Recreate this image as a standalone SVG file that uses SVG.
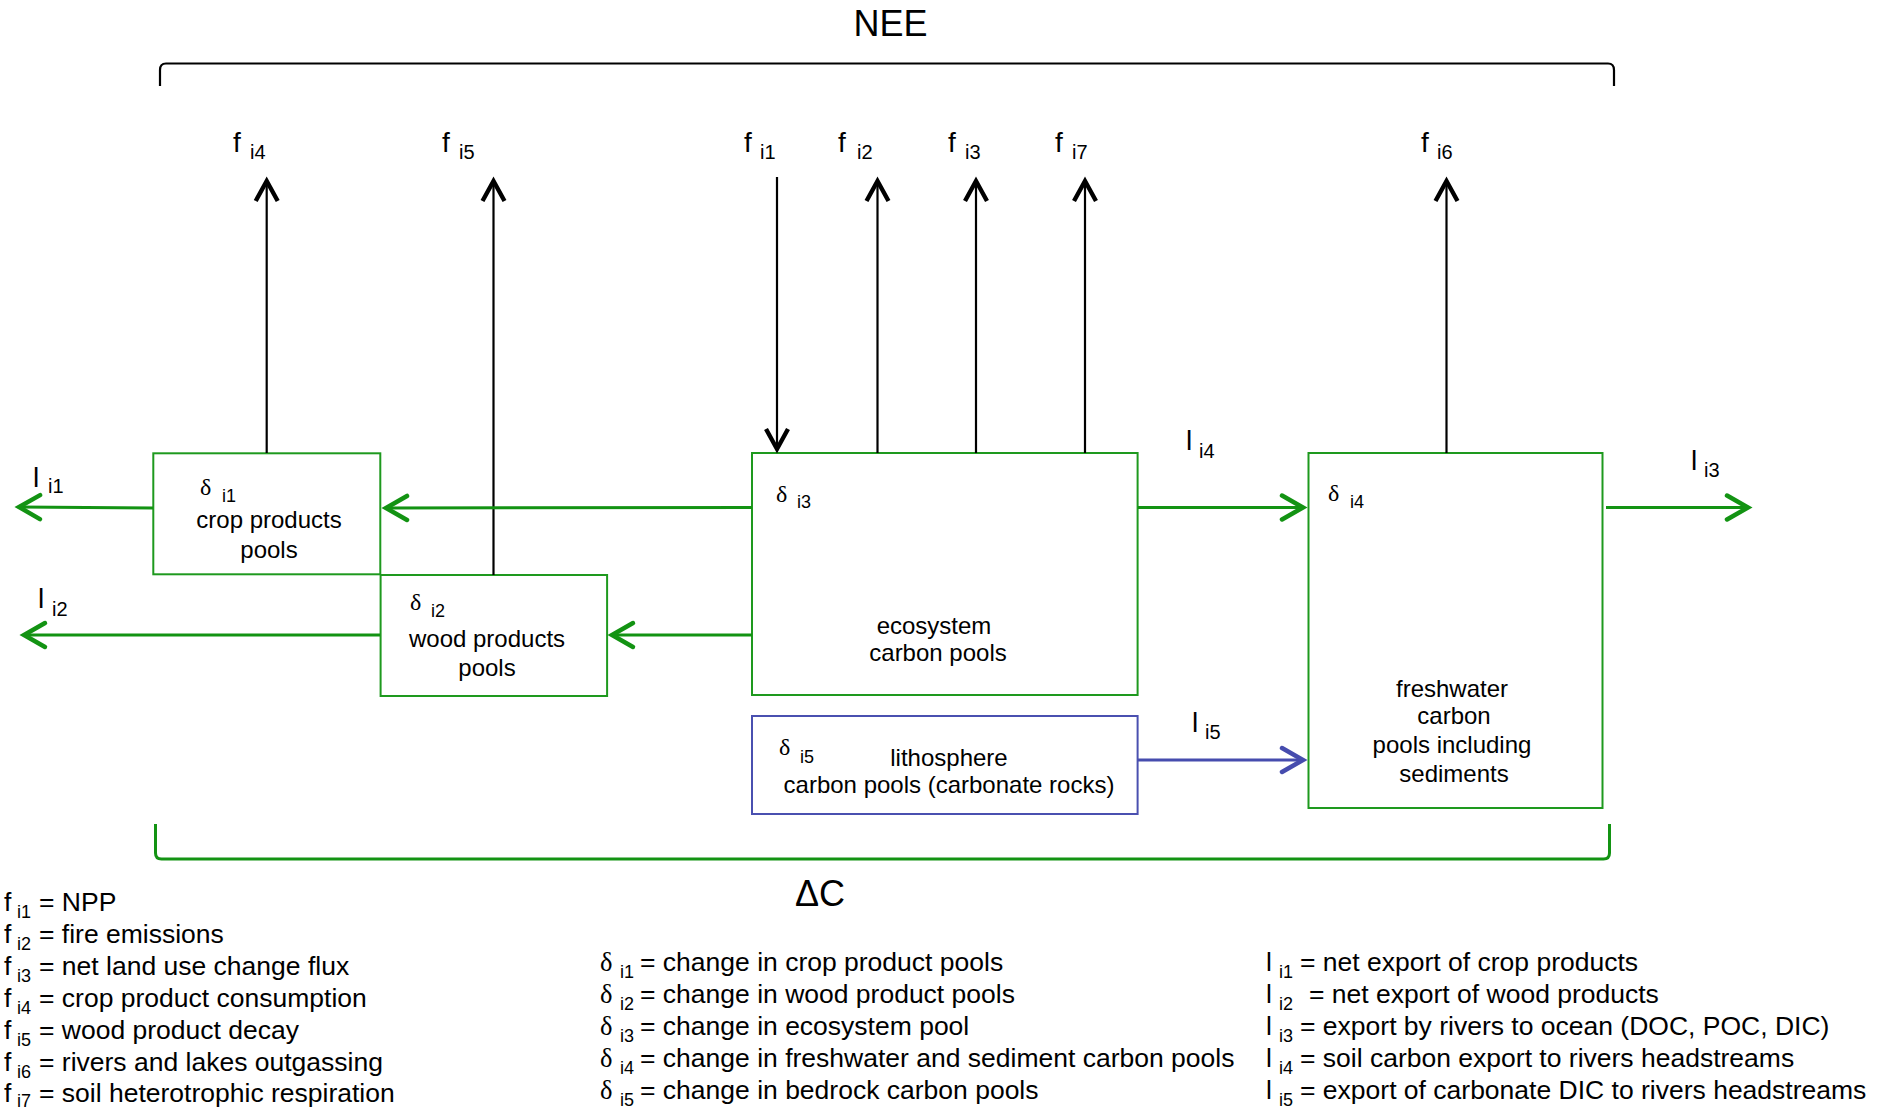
<svg xmlns="http://www.w3.org/2000/svg" width="1890" height="1109" viewBox="0 0 1890 1109">
<style>
.t{font-family:"Liberation Sans",Arial,sans-serif;fill:#000}
.d{font-family:"Liberation Serif","Times New Roman",serif}
.bt{font-size:24px;text-anchor:middle}
.lab{font-size:28px}
.sub{font-size:20px;font-family:"Liberation Sans",Arial,sans-serif}
.bsub{font-size:18px;font-family:"Liberation Sans",Arial,sans-serif}
.big{font-size:36px}
.lg{font-size:26.5px}
.lsub{font-size:18px;font-family:"Liberation Sans",Arial,sans-serif}
.box{fill:#fff;stroke:#1e991e;stroke-width:2}
.bbox{fill:#fff;stroke:#4a50b0;stroke-width:2}
.blk{stroke:#000;stroke-width:2.2;fill:none}
.grn{stroke:#139313;stroke-width:3;fill:none}
.blu{stroke:#464cae;stroke-width:3;fill:none}
</style>
<defs>
<marker id="ab" markerUnits="userSpaceOnUse" markerWidth="1" markerHeight="1" refX="0" refY="0" orient="auto" style="overflow:visible"><path d="M-20,-11 L0,0 L-20,11" fill="none" stroke="#000" stroke-width="4.4"/></marker>
<marker id="ag" markerUnits="userSpaceOnUse" markerWidth="1" markerHeight="1" refX="0" refY="0" orient="auto" style="overflow:visible"><path d="M-21,-12 L0,0 L-21,12" fill="none" stroke="#139313" stroke-width="4.5" stroke-linecap="round"/></marker>
<marker id="au" markerUnits="userSpaceOnUse" markerWidth="1" markerHeight="1" refX="0" refY="0" orient="auto" style="overflow:visible"><path d="M-21,-12 L0,0 L-21,12" fill="none" stroke="#464cae" stroke-width="4.5" stroke-linecap="round"/></marker>
</defs>
<rect width="1890" height="1109" fill="#fff"/>

<!-- brackets -->
<g id="nee">
<path class="blk" stroke-width="2.6" d="M160,86 L160,70 Q160,63.5 166,63.5 L1608,63.5 Q1614,63.5 1614,70 L1614,86"/>
<text class="t big" x="890.5" y="36" text-anchor="middle">NEE</text>
</g>
<g id="deltaC">
<path class="grn" d="M155.5,824 L155.5,853 Q155.5,859 161.5,859 L1603.5,859 Q1609.5,859 1609.5,853 L1609.5,824"/>
<text class="t big" x="820" y="906" text-anchor="middle">ΔC</text>
</g>

<!-- nodes -->
<g id="crop">
<rect class="box" x="153.3" y="453.3" width="227" height="121"/>
<text class="t d" font-size="24" x="200" y="495">δ<tspan class="bsub" x="222" dy="7">i1</tspan></text>
<text class="t bt" x="269" y="528">crop products</text>
<text class="t bt" x="269" y="558">pools</text>
</g>
<g id="wood">
<rect class="box" x="380.6" y="575" width="226.5" height="121"/>
<text class="t d" font-size="24" x="410" y="610">δ<tspan class="bsub" x="431" dy="7">i2</tspan></text>
<text class="t bt" x="487" y="647">wood products</text>
<text class="t bt" x="487" y="676">pools</text>
</g>
<g id="ecosystem">
<rect class="box" x="752" y="453" width="385.6" height="242"/>
<text class="t d" font-size="24" x="776" y="502">δ<tspan class="bsub" x="797" dy="6">i3</tspan></text>
<text class="t bt" x="934" y="634">ecosystem</text>
<text class="t bt" x="938" y="661">carbon pools</text>
</g>
<g id="lithosphere">
<rect class="bbox" x="752" y="716" width="385.6" height="98"/>
<text class="t d" font-size="24" x="779" y="755">δ<tspan class="bsub" x="800" dy="8">i5</tspan></text>
<text class="t bt" x="949" y="766">lithosphere</text>
<text class="t bt" x="949" y="793">carbon pools (carbonate rocks)</text>
</g>
<g id="freshwater">
<rect class="box" x="1308.5" y="453" width="294" height="355"/>
<text class="t d" font-size="24" x="1328" y="501">δ<tspan class="bsub" x="1350" dy="7">i4</tspan></text>
<text class="t bt" x="1452" y="697">freshwater</text>
<text class="t bt" x="1454" y="724">carbon</text>
<text class="t bt" x="1452" y="753">pools including</text>
<text class="t bt" x="1454" y="782">sediments</text>
</g>

<!-- connectors -->
<g id="connectors">
<line class="blk" x1="266.7" y1="453" x2="266.7" y2="181" marker-end="url(#ab)"/>
<line class="blk" x1="493.5" y1="575" x2="493.5" y2="181" marker-end="url(#ab)"/>
<line class="blk" x1="777" y1="177" x2="777" y2="449" marker-end="url(#ab)"/>
<line class="blk" x1="877.5" y1="453" x2="877.5" y2="181" marker-end="url(#ab)"/>
<line class="blk" x1="976" y1="453" x2="976" y2="181" marker-end="url(#ab)"/>
<line class="blk" x1="1085" y1="453" x2="1085" y2="181" marker-end="url(#ab)"/>
<line class="blk" x1="1446.5" y1="453" x2="1446.5" y2="181" marker-end="url(#ab)"/>
<line class="grn" x1="153" y1="508" x2="19" y2="507" marker-end="url(#ag)"/>
<line class="grn" x1="752" y1="507.5" x2="386" y2="508" marker-end="url(#ag)"/>
<line class="grn" x1="380" y1="635" x2="24" y2="635" marker-end="url(#ag)"/>
<line class="grn" x1="752" y1="635" x2="612" y2="635" marker-end="url(#ag)"/>
<line class="grn" x1="1138" y1="507.5" x2="1303" y2="507.5" marker-end="url(#ag)"/>
<line class="grn" x1="1606" y1="507.5" x2="1748" y2="507.5" marker-end="url(#ag)"/>
<line class="blu" x1="1138" y1="760" x2="1303" y2="760" marker-end="url(#au)"/>
</g>

<!-- flux labels -->
<g id="flux-labels">
<text class="t lab" x="233" y="152">f<tspan class="sub" x="250" dy="7">i4</tspan></text>
<text class="t lab" x="442" y="152">f<tspan class="sub" x="459" dy="7">i5</tspan></text>
<text class="t lab" x="744" y="152">f<tspan class="sub" x="760" dy="7">i1</tspan></text>
<text class="t lab" x="838" y="152">f<tspan class="sub" x="857" dy="7">i2</tspan></text>
<text class="t lab" x="948" y="152">f<tspan class="sub" x="965" dy="7">i3</tspan></text>
<text class="t lab" x="1055" y="152">f<tspan class="sub" x="1072" dy="7">i7</tspan></text>
<text class="t lab" x="1421" y="152">f<tspan class="sub" x="1437" dy="7">i6</tspan></text>
<text class="t lab" x="33" y="487">l<tspan class="sub" x="48" dy="6">i1</tspan></text>
<text class="t lab" x="38" y="608">l<tspan class="sub" x="52" dy="8">i2</tspan></text>
<text class="t lab" x="1186" y="450">l<tspan class="sub" x="1199" dy="8">i4</tspan></text>
<text class="t lab" x="1691" y="470">l<tspan class="sub" x="1704" dy="7">i3</tspan></text>
<text class="t lab" x="1192" y="732">l<tspan class="sub" x="1205" dy="7">i5</tspan></text>
</g>

<!-- legend -->
<g id="legend-f" class="t lg">
<text y="911"><tspan x="4">f</tspan><tspan class="lsub" x="17" dy="7">i1</tspan><tspan x="39" dy="-7">= NPP</tspan></text>
<text y="943"><tspan x="4">f</tspan><tspan class="lsub" x="17" dy="7">i2</tspan><tspan x="39" dy="-7">= fire emissions</tspan></text>
<text y="975"><tspan x="4">f</tspan><tspan class="lsub" x="17" dy="7">i3</tspan><tspan x="39" dy="-7">= net land use change flux</tspan></text>
<text y="1007"><tspan x="4">f</tspan><tspan class="lsub" x="17" dy="7">i4</tspan><tspan x="39" dy="-7">= crop product consumption</tspan></text>
<text y="1039"><tspan x="4">f</tspan><tspan class="lsub" x="17" dy="7">i5</tspan><tspan x="39" dy="-7">= wood product decay</tspan></text>
<text y="1071"><tspan x="4">f</tspan><tspan class="lsub" x="17" dy="7">i6</tspan><tspan x="39" dy="-7">= rivers and lakes outgassing</tspan></text>
<text y="1102"><tspan x="4">f</tspan><tspan class="lsub" x="17" dy="5">i7</tspan><tspan x="39" dy="-5">= soil heterotrophic respiration</tspan></text>
</g>
<g id="legend-d" class="t lg">
<text y="971"><tspan class="d" x="600">δ</tspan><tspan class="lsub" x="620" dy="7">i1</tspan><tspan x="640" dy="-7">= change in crop product pools</tspan></text>
<text y="1003"><tspan class="d" x="600">δ</tspan><tspan class="lsub" x="620" dy="7">i2</tspan><tspan x="640" dy="-7">= change in wood product pools</tspan></text>
<text y="1035"><tspan class="d" x="600">δ</tspan><tspan class="lsub" x="620" dy="7">i3</tspan><tspan x="640" dy="-7">= change in ecosystem pool</tspan></text>
<text y="1067"><tspan class="d" x="600">δ</tspan><tspan class="lsub" x="620" dy="7">i4</tspan><tspan x="640" dy="-7">= change in freshwater and sediment carbon pools</tspan></text>
<text y="1099"><tspan class="d" x="600">δ</tspan><tspan class="lsub" x="620" dy="7">i5</tspan><tspan x="640" dy="-7">= change in bedrock carbon pools</tspan></text>
</g>
<g id="legend-l" class="t lg">
<text y="971"><tspan x="1266">l</tspan><tspan class="lsub" x="1279" dy="7">i1</tspan><tspan x="1300" dy="-7">= net export of crop products</tspan></text>
<text y="1003"><tspan x="1266">l</tspan><tspan class="lsub" x="1279" dy="7">i2</tspan><tspan x="1309" dy="-7">= net export of wood products</tspan></text>
<text y="1035"><tspan x="1266">l</tspan><tspan class="lsub" x="1279" dy="7">i3</tspan><tspan x="1300" dy="-7">= export by rivers to ocean (DOC, POC, DIC)</tspan></text>
<text y="1067"><tspan x="1266">l</tspan><tspan class="lsub" x="1279" dy="7">i4</tspan><tspan x="1300" dy="-7">= soil carbon export to rivers headstreams</tspan></text>
<text y="1099"><tspan x="1266">l</tspan><tspan class="lsub" x="1279" dy="7">i5</tspan><tspan x="1300" dy="-7">= export of carbonate DIC to rivers headstreams</tspan></text>
</g>
</svg>
